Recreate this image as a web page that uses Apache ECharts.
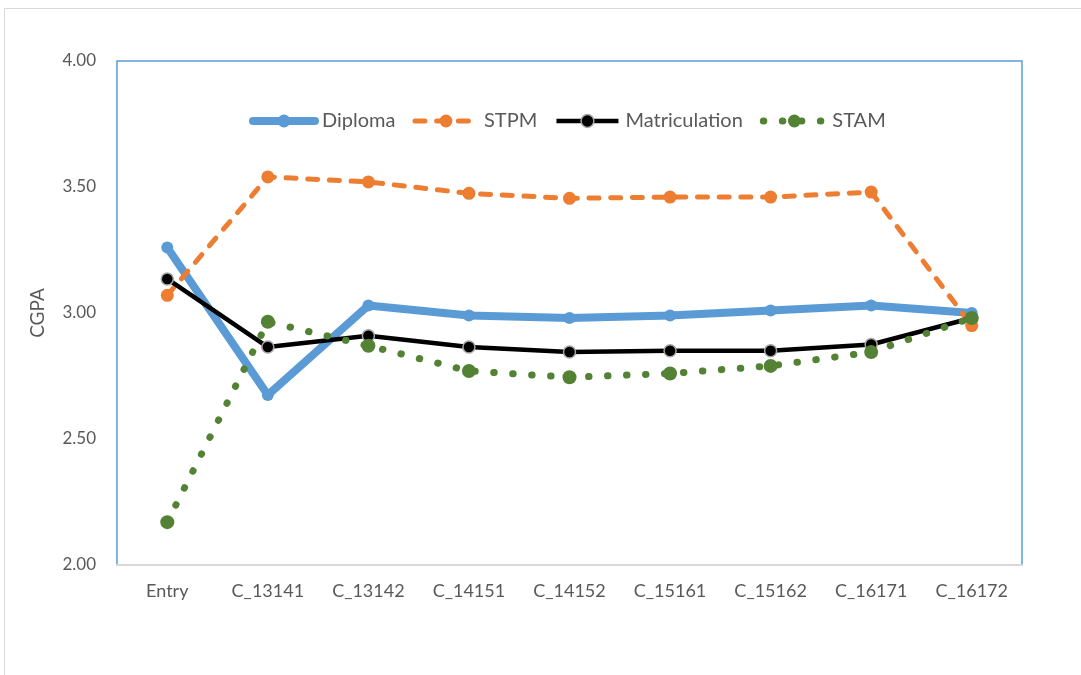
<!DOCTYPE html>
<html>
<head>
<meta charset="utf-8">
<script src="https://cdn.jsdelivr.net/npm/echarts@6/dist/echarts.min.js"></script>
<style>html,body{margin:0;padding:0;background:#fff}#c{width:1081px;height:675px}</style>
</head>
<body>
<div id="c"></div>
<script>
const categories = ['Entry','C_13141','C_13142','C_14151','C_14152','C_15161','C_15162','C_16171','C_16172'];
const diploma = [3.26, 2.675, 3.03, 2.99, 2.98, 2.99, 3.01, 3.03, 3.00];
const stpm = [3.07, 3.54, 3.52, 3.475, 3.455, 3.46, 3.46, 3.48, 2.95];
const matriculation = [3.135, 2.865, 2.91, 2.865, 2.845, 2.85, 2.85, 2.875, 2.98];
const stam = [2.17, 2.965, 2.87, 2.77, 2.745, 2.76, 2.79, 2.845, 2.98];
const yTicks = {min: 2, max: 4, interval: 0.5};

const font = 'Lato, "Open Sans", sans-serif';
const blueStyle = {color: '#5B9BD5', width: 8, cap: 'round', join: 'round'};
const orangeStyle = {color: '#ED7D31', width: 5, type: [10, 11.7], cap: 'round'};
const blackStyle = {color: '#000', width: 4.5, join: 'round'};
const greenStyle = {color: '#548235', width: 7, type: [0.5, 18.5], cap: 'round'};
const chart = echarts.init(document.getElementById('c'), null, {renderer: 'canvas'});
chart.setOption({
  animation: false,
  backgroundColor: '#fff',
  graphic: [{
    type: 'rect', silent: true, z: -10,
    shape: {x: 4.5, y: 8.5, width: 1200, height: 800},
    style: {fill: 'none', stroke: '#d9d9d9', lineWidth: 1}
  }],
  grid: {left: 117, top: 61, right: 59, bottom: 110, show: true, borderColor: '#5B9BD5', borderWidth: 1.5, backgroundColor: 'transparent'},
  legend: {
    top: 106, left: 244, itemWidth: 62, itemHeight: 16, itemGap: 17,
    textStyle: {color: '#595959', fontSize: 20, fontFamily: font, padding: [0, 0, 0, 2]},
    data: [
      {name: 'Diploma', lineStyle: blueStyle, itemStyle: {color: '#5B9BD5'}},
      {name: 'STPM', lineStyle: orangeStyle, itemStyle: {color: '#ED7D31'}},
      {name: 'Matriculation', lineStyle: blackStyle, itemStyle: {color: '#000', borderColor: '#a6a6a6', borderWidth: 1.5}},
      {name: 'STAM', lineStyle: greenStyle, itemStyle: {color: '#548235'}}
    ]
  },
  xAxis: {
    type: 'category', data: categories, boundaryGap: true,
    axisLine: {show: true, lineStyle: {color: '#d9d9d9', width: 2}},
    axisTick: {show: false},
    axisLabel: {color: '#595959', fontSize: 18, fontFamily: font, margin: 17, interval: 0},
    splitLine: {show: false}
  },
  yAxis: {
    type: 'value', min: yTicks.min, max: yTicks.max, interval: yTicks.interval,
    name: 'CGPA', nameLocation: 'middle', nameGap: 70, nameRotate: 90,
    nameTextStyle: {color: '#595959', fontSize: 19, fontFamily: font},
    axisLine: {show: false}, axisTick: {show: false}, splitLine: {show: false},
    axisLabel: {color: '#595959', fontSize: 17, fontFamily: font, margin: 21, formatter: v => v.toFixed(2)}
  },
  series: [
    {
      name: 'Diploma', type: 'line', data: diploma, z: 2,
      symbol: 'circle', symbolSize: 12,
      lineStyle: blueStyle,
      itemStyle: {color: '#5B9BD5'}
    },
    {
      name: 'STPM', type: 'line', data: stpm, z: 3,
      symbol: 'circle', symbolSize: 13,
      lineStyle: orangeStyle,
      itemStyle: {color: '#ED7D31'}
    },
    {
      name: 'Matriculation', type: 'line', data: matriculation, z: 4,
      symbol: 'circle', symbolSize: 12,
      lineStyle: blackStyle,
      itemStyle: {color: '#000', borderColor: '#a6a6a6', borderWidth: 1.5}
    },
    {
      name: 'STAM', type: 'line', data: stam, z: 5,
      symbol: 'circle', symbolSize: 14,
      lineStyle: greenStyle,
      itemStyle: {color: '#548235'}
    }
  ]
});
</script>
</body>
</html>
